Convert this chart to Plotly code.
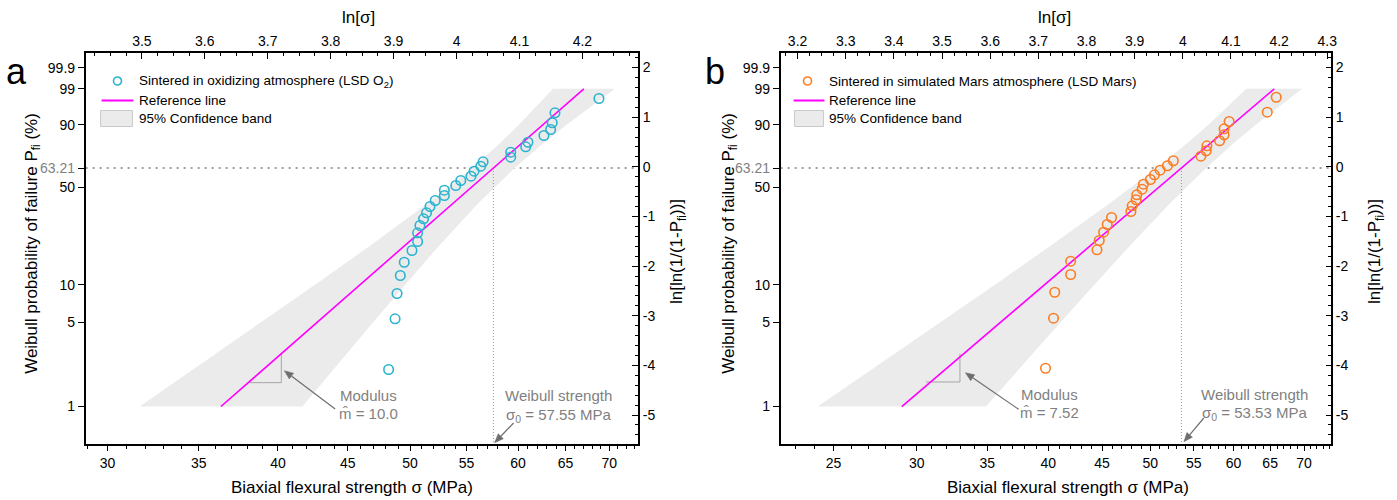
import numpy as np
import plotly.graph_objects as go

W, H = 1397, 500
FONT = "Arial, 'Liberation Sans', sans-serif"
GRAY_TXT = "#7f7f7f"

# ---------------- data ----------------
# panel a : sintered in oxidizing atmosphere (LSD O2)
sigma_a = [48.22, 48.75, 48.91, 49.18, 49.51, 50.16, 50.64, 50.64, 50.84, 51.15,
           51.41, 51.71, 52.17, 52.98, 52.98, 54.01, 54.47, 55.42, 55.70, 56.34,
           56.56, 59.26, 59.26, 60.78, 61.01, 62.68, 63.39, 63.56, 63.86, 68.78]
P_a = [2.03, 5.31, 8.51, 11.82, 15.0, 18.43, 21.52, 24.91, 28.10, 31.29,
       34.39, 37.87, 41.39, 44.49, 47.89, 51.01, 54.42, 57.42, 60.95, 64.49,
       67.60, 70.82, 74.24, 77.80, 80.69, 84.61, 87.77, 90.85, 94.49, 97.81]
ref_sigma_a = [36.33, 67.05]
ref_P_a = [1, 99]
band_P_a = [1, 5, 10, 20, 40, 63.21, 80, 90, 99]
band_lo_a = [31.67, 38.92, 42.59, 46.73, 51.58, 55.53, 58.19, 60.09, 63.65]
band_hi_a = [41.69, 46.99, 49.59, 52.51, 56.15, 59.65, 62.62, 65.13, 70.66]
sigma0_a = 57.55
modulus_a = "10.0"
tri_sigma_a = [38.07, 40.23, 40.23]
tri_P_a = [1.58, 1.58, 2.74]

# panel b : sintered in simulated Mars atmosphere (LSD Mars)
sigma_b = [39.76, 40.46, 40.57, 42.01, 42.01, 44.50, 44.72, 45.15, 45.51, 45.94,
           47.93, 48.06, 48.48, 48.55, 49.12, 49.26, 50.02, 50.46, 51.09, 51.91,
           52.59, 55.86, 56.51, 56.60, 58.19, 58.77, 58.77, 59.42, 64.59, 65.87]
P_b = [2.08, 5.37, 8.71, 12.03, 15.27, 18.65, 21.89, 25.17, 28.56, 31.95,
       35.09, 38.27, 41.82, 44.92, 48.54, 51.89, 55.12, 58.40, 61.65, 64.78,
       68.31, 71.51, 75.18, 78.44, 81.55, 85.00, 88.11, 91.39, 94.68, 98.01]
ref_sigma_b = [29.03, 65.59]
ref_P_b = [1, 99]
band_P_b = [1, 5, 10, 20, 40, 63.21, 80, 90, 99]
band_lo_b = [24.15, 31.64, 35.60, 40.20, 45.84, 50.71, 54.20, 56.79, 61.71]
band_hi_b = [34.90, 41.11, 44.25, 47.82, 52.28, 56.51, 60.00, 63.00, 69.72]
sigma0_b = 53.53
modulus_b = "7.52"
tri_sigma_b = [30.60, 32.97, 32.97]
tri_P_b = [1.60, 1.60, 2.75]

# tick labels
P_ticks = [1, 5, 10, 50, 63.21, 90, 99, 99.9]
bottom_ticks_a = [30, 35, 40, 45, 50, 55, 60, 65, 70]
bottom_ticks_b = [25, 30, 35, 40, 45, 50, 55, 60, 65, 70]
top_ticks_a = [3.5, 3.6, 3.7, 3.8, 3.9, 4.0, 4.1, 4.2]
top_ticks_b = [3.2, 3.3, 3.4, 3.5, 3.6, 3.7, 3.8, 3.9, 4.0, 4.1, 4.2, 4.3]
right_ticks = [-5, -4, -3, -2, -1, 0, 1, 2]

# ---------------- layout geometry (pixels) ----------------
Y_TOP, Y_BOT = 53, 443.5
Z0_PX, Z_SCALE = 168.0, 51.85          # weibull axis: z=0 pixel, px per unit
R0_PX, R_SCALE = 166.8, 49.64          # right axis calibration
ydom = [1 - Y_BOT / H, 1 - Y_TOP / H]
z_range = [-(Y_BOT - Z0_PX) / Z_SCALE, (Z0_PX - Y_TOP) / Z_SCALE]
r_range = [-(Y_BOT - R0_PX) / R_SCALE, (R0_PX - Y_TOP) / R_SCALE]

panels = [
    dict(xl=86, xr=641, slim=[28.91, 73.50], tlim=[3.4106, 4.2888],
         sig=sigma_a, P=P_a, color="#2bb3cf", ref_s=ref_sigma_a, ref_P=ref_P_a,
         bP=band_P_a, blo=band_lo_a, bhi=band_hi_a, s0=sigma0_a, mod=modulus_a,
         tri_s=tri_sigma_a, tri_P=tri_P_a, bt=bottom_ticks_a, tt=top_ticks_a,
         label="a", lab_x=17, legtxt="Sintered in oxidizing atmosphere (LSD O<sub>2</sub>)",
         mk=118, ln=(102, 134), rc=(101, 133), tx=138,
         modtxt=(370, 395.5, 413.5), modarrow=((336.6, 409), (285.5, 370.7)),
         wtxt=(561, 395.5, 415), warrow=((515.8, 423), (496.7, 442.7)),
         ytitle_x=33, rtitle_x=681, xtitle_x=354, ttitle_x=360),
    dict(xl=784, xr=1337, slim=[22.27, 74.30], tlim=[3.1648, 4.3083],
         sig=sigma_b, P=P_b, color="#fb7d23", ref_s=ref_sigma_b, ref_P=ref_P_b,
         bP=band_P_b, blo=band_lo_b, bhi=band_hi_b, s0=sigma0_b, mod=modulus_b,
         tri_s=tri_sigma_b, tri_P=tri_P_b, bt=bottom_ticks_b, tt=top_ticks_b,
         label="b", lab_x=718, legtxt="Sintered in simulated Mars atmosphere (LSD Mars)",
         mk=811, ln=(797, 828), rc=(798, 827), tx=831,
         modtxt=(1054, 394, 412.5), modarrow=((1023, 409.3), (969.5, 372.7)),
         wtxt=(1260, 394, 413.3), warrow=((1209, 418), (1189, 441.7)),
         ytitle_x=733, rtitle_x=1382, xtitle_x=1073, ttitle_x=1059),
]


def zf(p):
    p = np.asarray(p, dtype=float)
    return np.log(-np.log(1 - p / 100.0))


def px(x):
    return x / W


def py(y):
    return 1 - y / H


def arrow_shapes(tail, head, color="#6e6e6e", hl=9.0, hw=3.6):
    tx, ty = tail
    hx, hy = head
    dx, dy = hx - tx, hy - ty
    L = (dx * dx + dy * dy) ** 0.5
    ux, uy = dx / L, dy / L
    bx, by = hx - hl * ux, hy - hl * uy
    nx, ny = -uy, ux
    line = dict(type="line", xref="paper", yref="paper", x0=px(tx), y0=py(ty),
                x1=px(bx), y1=py(by), line=dict(color=color, width=1.2))
    pts = [(hx, hy), (bx + hw * nx, by + hw * ny), (bx - hw * nx, by - hw * ny)]
    path = "M " + " L ".join("%.5f %.5f" % (px(a), py(b)) for a, b in pts) + " Z"
    head_shape = dict(type="path", xref="paper", yref="paper", path=path,
                      fillcolor=color, line=dict(color=color, width=0.5))
    return [line, head_shape]


fig = go.Figure()
shapes, annotations = [], []
axis_base = dict(showline=True, linecolor="black", linewidth=1.5, showgrid=False,
                 zeroline=False, tickcolor="black", tickwidth=1.2, ticklen=6,
                 tickfont=dict(family=FONT, size=14, color="black"))

for i, p in enumerate(panels):
    n = 2 * i + 1
    xb, yb = ("x", "y") if n == 1 else (f"x{n}", f"y{n}")
    xt, yr = f"x{n+1}", f"y{n+1}"
    xb_name = "xaxis" if n == 1 else f"xaxis{n}"
    yb_name = "yaxis" if n == 1 else f"yaxis{n}"

    # confidence band
    bz = list(zf(p["bP"]))
    fig.add_trace(go.Scatter(x=p["blo"] + p["bhi"][::-1], y=bz + bz[::-1], mode="lines",
                             fill="toself", fillcolor="#ebebeb", line=dict(width=0),
                             hoverinfo="skip", xaxis=xb, yaxis=yb))
    # vertical dotted line at sigma0
    fig.add_trace(go.Scatter(x=[p["s0"], p["s0"]], y=[0, z_range[0]], mode="lines",
                             line=dict(color="#9a9a9a", width=1, dash="1px,2px"),
                             hoverinfo="skip", xaxis=xb, yaxis=yb))
    # slope triangle
    fig.add_trace(go.Scatter(x=p["tri_s"], y=list(zf(p["tri_P"])), mode="lines",
                             line=dict(color="#a6a6a6", width=1),
                             hoverinfo="skip", xaxis=xb, yaxis=yb))
    # reference line
    fig.add_trace(go.Scatter(x=p["ref_s"], y=list(zf(p["ref_P"])), mode="lines",
                             line=dict(color="#ff00ff", width=1.6),
                             hoverinfo="skip", xaxis=xb, yaxis=yb))
    # data points
    fig.add_trace(go.Scatter(x=p["sig"], y=list(zf(p["P"])), mode="markers",
                             marker=dict(symbol="circle-open", size=9.5, color=p["color"],
                                         line=dict(width=1.6, color=p["color"])),
                             xaxis=xb, yaxis=yb))
    # invisible trace to activate the top / right axes
    fig.add_trace(go.Scatter(x=[p["tt"][0]], y=[right_ticks[0]], mode="markers",
                             marker=dict(opacity=0), hoverinfo="skip", xaxis=xt, yaxis=yr))

    dom = [px(p["xl"]), px(p["xr"])]
    bmin = [v for v in range(int(np.ceil(p["slim"][0])), int(np.floor(p["slim"][1])) + 1)
            if v not in p["bt"]]
    fig.layout[xb_name] = dict(axis_base, domain=dom, anchor=yb, type="log",
                               range=[np.log10(p["slim"][0]), np.log10(p["slim"][1])],
                               tickmode="array", tickvals=p["bt"],
                               ticktext=[str(v) for v in p["bt"]], ticks="outside",
                               minor=dict(tickmode="array", tickvals=bmin, ticks="outside",
                                          ticklen=3.5, tickcolor="black", tickwidth=1))
    fig.layout[f"xaxis{n+1}"] = dict(axis_base, overlaying=xb, side="top", anchor=yb,
                                     range=p["tlim"], tickmode="array", tickvals=p["tt"],
                                     ticktext=[("%g" % v) for v in p["tt"]], ticks="inside",
                                     minor=dict(dtick=0.025, tick0=3.0, ticks="inside",
                                                ticklen=3.5, tickcolor="black", tickwidth=1))
    ptext = []
    for v in P_ticks:
        if v == 63.21:
            ptext.append('<span style="color:#7f7f7f">63.21</span>')
        else:
            ptext.append("%g" % v)
    fig.layout[yb_name] = dict(axis_base, domain=ydom, anchor=xb, range=z_range,
                               tickmode="array", tickvals=list(zf(P_ticks)), ticktext=ptext,
                               ticks="outside")
    fig.layout[f"yaxis{n+1}"] = dict(axis_base, overlaying=yb, side="right", anchor=xb,
                                     range=r_range, tickmode="array", tickvals=right_ticks,
                                     ticktext=[str(v) for v in right_ticks], ticks="inside",
                                     minor=dict(dtick=0.2, tick0=0, ticks="inside",
                                                ticklen=3.5, tickcolor="black", tickwidth=1))

    # horizontal dotted line at z = 0 (63.21 %)
    shapes.append(dict(type="line", xref=f"{xb} domain", yref=yb, x0=0, x1=1, y0=0, y1=0,
                       line=dict(color="#808080", width=1.6, dash="2px,5px"), layer="below"))

    # legend (drawn by hand)
    ly = [81, 100.5, 118.5]
    r = 4
    shapes.append(dict(type="circle", xref="paper", yref="paper",
                       x0=px(p["mk"] - r), x1=px(p["mk"] + r), y0=py(ly[0] + r), y1=py(ly[0] - r),
                       line=dict(color=p["color"], width=1.6)))
    shapes.append(dict(type="line", xref="paper", yref="paper", x0=px(p["ln"][0]),
                       x1=px(p["ln"][1]), y0=py(ly[1]), y1=py(ly[1]),
                       line=dict(color="#ff00ff", width=2)))
    shapes.append(dict(type="rect", xref="paper", yref="paper", x0=px(p["rc"][0]),
                       x1=px(p["rc"][1]), y0=py(ly[2] + 8), y1=py(ly[2] - 8),
                       fillcolor="#ebebeb", line=dict(color="#c9c9c9", width=1)))
    for txt, yy in zip([p["legtxt"], "Reference line", "95% Confidence band"], ly):
        annotations.append(dict(text=txt, xref="paper", yref="paper", x=px(p["tx"]), y=py(yy),
                                xanchor="left", yanchor="middle", showarrow=False,
                                font=dict(family=FONT, size=13.5, color="black")))

    # panel letter
    annotations.append(dict(text=p["label"], xref="paper", yref="paper", x=px(p["lab_x"]),
                            y=py(71), xanchor="center", yanchor="middle", showarrow=False,
                            font=dict(family=FONT, size=36, color="black")))

    # axis titles
    annotations.append(dict(text="Weibull probability of failure P<sub>fi</sub> (%)",
                            xref="paper", yref="paper", x=px(p["ytitle_x"]), y=py(243),
                            textangle=-90, xanchor="center", yanchor="middle", showarrow=False,
                            font=dict(family=FONT, size=17, color="black")))
    annotations.append(dict(text="ln[ln(1/(1-P<sub>fi</sub>))]",
                            xref="paper", yref="paper", x=px(p["rtitle_x"]), y=py(252),
                            textangle=-90, xanchor="center", yanchor="middle", showarrow=False,
                            font=dict(family=FONT, size=17, color="black")))
    annotations.append(dict(text="Biaxial flexural strength σ (MPa)",
                            xref="paper", yref="paper", x=px(p["xtitle_x"]), y=py(487),
                            xanchor="center", yanchor="middle", showarrow=False,
                            font=dict(family=FONT, size=17, color="black")))
    annotations.append(dict(text="ln[σ]",
                            xref="paper", yref="paper", x=px(p["ttitle_x"]), y=py(17),
                            xanchor="center", yanchor="middle", showarrow=False,
                            font=dict(family=FONT, size=17, color="black")))

    # modulus / strength annotations
    mx, my1, my2 = p["modtxt"]
    annotations.append(dict(text="Modulus", xref="paper", yref="paper", x=px(mx), y=py(my1),
                            xanchor="center", yanchor="middle", showarrow=False,
                            font=dict(family=FONT, size=15, color=GRAY_TXT)))
    annotations.append(dict(text="m\u0302 = " + p["mod"], xref="paper", yref="paper", x=px(mx),
                            y=py(my2), xanchor="center", yanchor="middle", showarrow=False,
                            font=dict(family=FONT, size=15, color=GRAY_TXT)))
    wx, wy1, wy2 = p["wtxt"]
    annotations.append(dict(text="Weibull strength", xref="paper", yref="paper", x=px(wx),
                            y=py(wy1), xanchor="center", yanchor="middle", showarrow=False,
                            font=dict(family=FONT, size=15, color=GRAY_TXT)))
    annotations.append(dict(text="σ<sub>0</sub> = %.2f MPa" % p["s0"], xref="paper",
                            yref="paper", x=px(wx), y=py(wy2), xanchor="center",
                            yanchor="middle", showarrow=False,
                            font=dict(family=FONT, size=15, color=GRAY_TXT)))
    for (tail, head) in (p["modarrow"], p["warrow"]):
        shapes.extend(arrow_shapes(tail, head))

fig.update_layout(width=W, height=H, margin=dict(l=0, r=0, t=0, b=0),
                  paper_bgcolor="white", plot_bgcolor="white", showlegend=False,
                  shapes=shapes, annotations=annotations,
                  font=dict(family=FONT, size=14, color="black"))

fig.write_html("out.html", config={"displayModeBar": False},
               post_script="document.body.style.margin='0px';")
